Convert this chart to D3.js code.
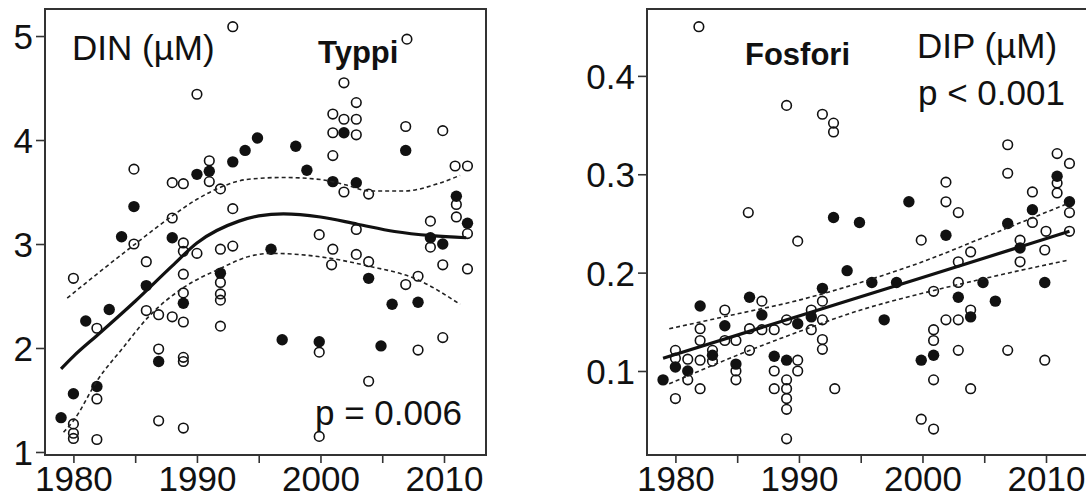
<!DOCTYPE html>
<html>
<head>
<meta charset="utf-8">
<script src="https://cdn.jsdelivr.net/npm/d3@7"></script>
<style>
  body { margin: 0; background: #fff; }
  svg { display: block; font-family: "Liberation Sans", Arial, sans-serif; }
</style>
</head>
<body>
<svg width="1086" height="497"></svg>
<script>
// ---- data: [year, value] ----
const dinOpen = [
  [1992.9,5.09],[1990.0,4.44],[1984.9,3.72],[1991.0,3.80],[1991.0,3.60],[1988.0,3.59],
  [1988.9,3.58],[1991.9,3.53],[1992.9,3.34],[1988.0,3.25],[1984.9,3.00],[1988.9,3.01],
  [1988.9,2.93],[1990.0,2.91],[1991.9,2.95],[1992.9,2.98],[1980.0,2.67],[1985.9,2.83],
  [1981.9,2.19],[1985.9,2.36],[1986.9,2.32],[1988.0,2.30],[1988.9,2.71],[1988.9,2.53],
  [1988.9,2.25],[1986.9,1.99],[1988.9,1.91],[1988.9,1.87],[1981.9,1.51],[1980.0,1.27],
  [1980.0,1.18],[1980.0,1.13],[1981.9,1.12],[1986.9,1.30],[1988.9,1.23],[1991.9,2.63],
  [1991.9,2.52],[1991.9,2.46],[1991.9,2.21],
  [2007.0,4.97],[2001.9,4.55],[2002.9,4.36],[2001.0,4.25],[2001.9,4.20],[2002.9,4.20],
  [2001.0,4.07],[2002.9,4.05],[2006.9,4.13],[2009.9,4.09],[2001.0,3.85],[2001.9,3.50],
  [2003.9,3.48],[2010.9,3.75],[2011.9,3.75],[2011.0,3.38],[2011.0,3.26],[2011.9,3.10],
  [2008.9,3.22],[2008.9,2.97],[1999.9,3.09],[2002.9,3.14],[2001.0,2.95],[2002.9,2.90],
  [2000.9,2.80],[2003.9,2.83],[2006.9,2.61],[2007.9,2.69],[2009.9,2.80],[2011.9,2.76],
  [1999.9,1.96],[2007.9,1.98],[2009.9,2.10],[2003.9,1.68],[1999.9,1.15]
];
const dinFilled = [
  [1993.9,3.90],[1984.9,3.36],[1990.0,3.67],[1991.0,3.70],[1992.9,3.79],[1983.9,3.07],
  [1988.0,3.06],[1985.9,2.60],[1981.0,2.26],[1982.9,2.37],[1988.9,2.43],[1986.9,1.87],
  [1980.0,1.56],[1981.9,1.63],[1979.0,1.33],[1991.9,2.72],[2001.9,4.07],[2006.9,3.90],
  [1994.9,4.02],[1998.0,3.94],[1998.9,3.71],[2001.0,3.60],[2002.9,3.59],[2011.0,3.46],
  [2011.9,3.20],[2008.9,3.06],[2009.9,3.00],[1996.0,2.95],[2003.9,2.67],[2005.8,2.42],
  [2007.9,2.44],[1996.9,2.08],[1999.9,2.06],[2004.9,2.02]
];
const dinFit = [
  [1979.0,1.80],[1980,1.92],[1982,2.13],[1985,2.45],[1988,2.79],[1990,3.01],[1993.4,3.22],
  [1995,3.27],[1997,3.29],[2000,3.26],[2003,3.19],[2006,3.12],[2009,3.08],[2011.8,3.06]
];
const dinUpper = [
  [1979.5,2.48],[1982,2.72],[1985,3.00],[1988,3.27],[1990,3.43],[1992,3.55],[1994,3.62],
  [1997,3.64],[2000,3.62],[2002,3.57],[2004,3.51],[2006.8,3.51],[2009.5,3.58],[2011.3,3.66]
];
const dinLower = [
  [1979.2,1.19],[1980,1.30],[1982,1.70],[1984,2.00],[1986,2.29],[1988.9,2.58],[1991.8,2.76],
  [1994.2,2.88],[1996,2.91],[1999.8,2.88],[2003.8,2.79],[2007.8,2.66],[2011.3,2.42]
];

const dipOpen = [
  [1981.9,0.450],[1989.0,0.370],[1991.9,0.361],[1992.8,0.352],[1992.8,0.343],[1985.9,0.261],
  [1989.9,0.232],[1999.9,0.233],[2001.9,0.292],[2001.9,0.272],[2002.9,0.261],[2006.9,0.330],
  [2006.9,0.301],[2010.9,0.321],[2011.9,0.311],[2010.9,0.291],[2010.9,0.281],[2008.9,0.282],
  [2008.9,0.251],[2011.9,0.261],[2010.0,0.242],[2007.9,0.233],[2011.9,0.242],[2009.9,0.223],
  [2007.9,0.211],[1991.9,0.171],[1991.9,0.152],[1991.9,0.132],[1991.9,0.122],[1992.9,0.082],
  [1999.9,0.051],[2000.9,0.181],[2000.9,0.142],[2000.9,0.131],[2000.9,0.091],[2000.9,0.041],
  [2001.9,0.152],[2002.9,0.211],[2002.9,0.190],[2002.9,0.152],[2002.9,0.121],[2003.9,0.221],
  [2003.9,0.162],[2003.9,0.082],[2006.9,0.121],[2009.9,0.111],
  [1980.0,0.121],[1980.0,0.113],[1980.0,0.072],[1981.0,0.112],[1981.0,0.091],[1982.0,0.143],
  [1982.0,0.131],[1982.0,0.111],[1982.0,0.082],[1983.0,0.121],[1983.0,0.110],[1984.0,0.162],
  [1984.0,0.131],[1984.9,0.131],[1984.9,0.100],[1984.9,0.091],[1986.0,0.143],[1986.0,0.121],
  [1987.0,0.171],[1987.0,0.142],[1988.0,0.142],[1988.0,0.100],[1988.0,0.082],[1989.0,0.152],
  [1989.0,0.091],[1989.0,0.082],[1989.0,0.072],[1989.0,0.061],[1989.0,0.031],[1989.9,0.111],
  [1989.9,0.100],[1991.0,0.162],[1991.0,0.142]
];
const dipFilled = [
  [1992.8,0.256],[1994.9,0.251],[1998.9,0.272],[2001.9,0.238],[2010.9,0.298],[2008.9,0.264],
  [2011.9,0.272],[2006.9,0.250],[1993.9,0.202],[1995.9,0.190],[1997.9,0.190],[1991.9,0.184],
  [1996.9,0.152],[1999.9,0.111],[2000.9,0.116],[2002.9,0.175],[2003.9,0.155],[2004.9,0.190],
  [2005.9,0.171],[2007.9,0.225],[2009.9,0.190],[1979.0,0.091],[1980.0,0.104],[1981.0,0.100],
  [1982.0,0.166],[1983.0,0.116],[1984.0,0.146],[1984.9,0.107],[1986.0,0.175],[1987.0,0.157],
  [1988.0,0.115],[1989.0,0.111],[1989.9,0.148],[1991.0,0.155]
];
const dipFit = [[1979.0,0.113],[1990,0.156],[2000,0.195],[2011.9,0.242]];
const dipUpper = [
  [1979.5,0.143],[1985,0.158],[1990,0.172],[1995,0.190],[2000,0.211],[2005,0.236],[2011.9,0.271]
];
const dipLower = [
  [1979.5,0.087],[1985,0.116],[1990,0.140],[1995,0.162],[2000,0.179],[2005,0.194],[2011.9,0.213]
];

const yearTicks = [1980, 1985, 1990, 1995, 2000, 2005, 2010];
const yearLabels = [1980, 1990, 2000, 2010];
const dinTicks = [1, 2, 3, 4, 5];
const dipTicks = [0.1, 0.2, 0.3, 0.4];

const svg = d3.select("svg");

function drawPanel(p) {
  const g = svg.append("g").attr("transform", `translate(${p.left},${p.top})`);
  const w = p.width, h = p.height;

  const x = d3.scaleLinear().domain([1977.7, 2013.4]).range([0, w]);
  const y = d3.scaleLinear().domain(p.ydomain).range([h, 0]);

  // axes (R style: ticks outside, box drawn separately)
  const xa = g.append("g").attr("transform", `translate(0,${h})`)
    .call(d3.axisBottom(x).tickValues(yearTicks).tickSize(8).tickPadding(3)
      .tickFormat(d => yearLabels.includes(d) ? d : ""));
  const ya = g.append("g")
    .call(d3.axisLeft(y).tickValues(p.yticks).tickSize(9).tickPadding(3).tickFormat(p.yfmt));
  [xa, ya].forEach(a => {
    a.select(".domain").remove();
    a.selectAll("line").attr("stroke", "#333").attr("stroke-width", 1.6);
    a.selectAll("text").attr("fill", "#111").style("font-size", "35px")
      .style("font-family", '"Liberation Sans", Arial, sans-serif');
  });
  xa.selectAll("text").attr("dy", "0.7em");
  ya.selectAll("text").attr("dy", "0.36em");

  // points
  g.append("g").selectAll("circle").data(p.open).join("circle")
    .attr("cx", d => x(d[0])).attr("cy", d => y(d[1])).attr("r", 4.8)
    .attr("fill", "none").attr("stroke", "#111").attr("stroke-width", 1.6);
  g.append("g").selectAll("circle").data(p.filled).join("circle")
    .attr("cx", d => x(d[0])).attr("cy", d => y(d[1])).attr("r", 5.7)
    .attr("fill", "#111");

  // fitted line and confidence band
  const line = d3.line().x(d => x(d[0])).y(d => y(d[1])).curve(d3.curveMonotoneX);
  [p.upper, p.lower].forEach(arr => {
    g.append("path").datum(arr).attr("d", line)
      .attr("fill", "none").attr("stroke", "#222").attr("stroke-width", 1.6)
      .attr("stroke-dasharray", "4,3");
  });
  g.append("path").datum(p.fit).attr("d", line)
    .attr("fill", "none").attr("stroke", "#111").attr("stroke-width", 3.2);

  // box
  g.append("rect").attr("width", w).attr("height", h)
    .attr("fill", "none").attr("stroke", "#333").attr("stroke-width", 2);

  // annotations
  p.labels.forEach(l => {
    g.append("text").attr("x", l.x - p.left).attr("y", l.y - p.top)
      .attr("fill", "#111").style("font-size", l.size + "px")
      .style("font-weight", l.bold ? "bold" : "normal").text(l.text);
  });
}

drawPanel({
  left: 45, top: 9, width: 441, height: 446,
  ydomain: [0.971, 5.26], yticks: dinTicks, yfmt: d3.format("d"),
  open: dinOpen, filled: dinFilled, fit: dinFit, upper: dinUpper, lower: dinLower,
  labels: [
    { text: "DIN (µM)", x: 72, y: 60, size: 35 },
    { text: "Typpi", x: 318, y: 63, size: 31, bold: true },
    { text: "p = 0.006", x: 315, y: 425, size: 35 }
  ]
});

drawPanel({
  left: 647, top: 9, width: 441, height: 446,
  ydomain: [0.0146, 0.468], yticks: dipTicks, yfmt: d3.format(".1f"),
  open: dipOpen, filled: dipFilled, fit: dipFit, upper: dipUpper, lower: dipLower,
  labels: [
    { text: "Fosfori", x: 745, y: 65, size: 31, bold: true },
    { text: "DIP (µM)", x: 917, y: 58, size: 35 },
    { text: "p < 0.001", x: 918, y: 105, size: 35 }
  ]
});
</script>
</body>
</html>
